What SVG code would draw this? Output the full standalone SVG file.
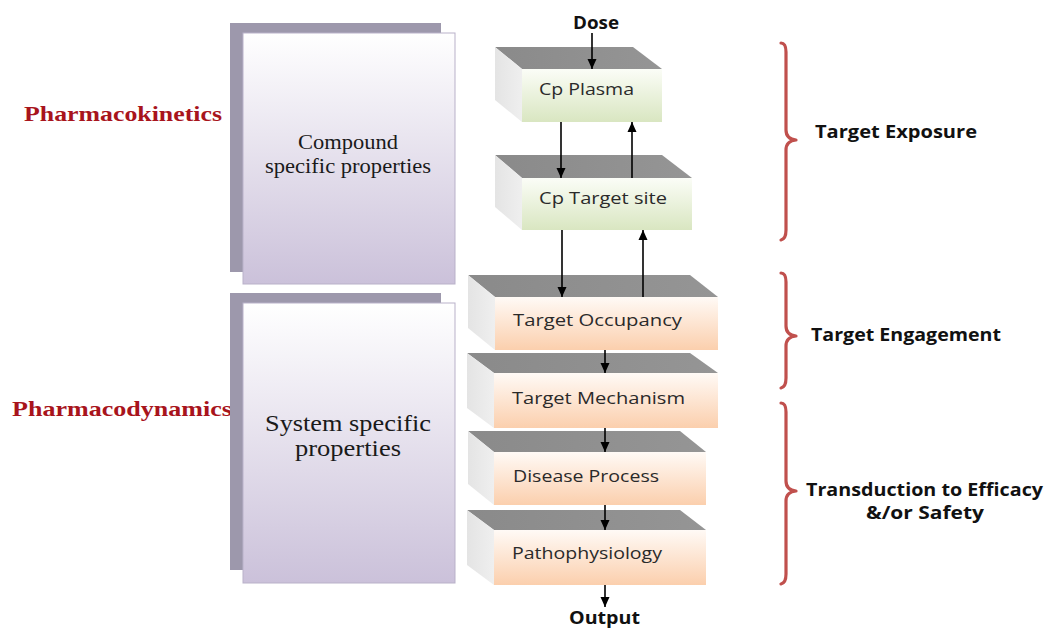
<svg xmlns="http://www.w3.org/2000/svg" width="1045" height="630" viewBox="0 0 1045 630">
<defs>
<linearGradient id="gPurple" x1="0" y1="0" x2="0" y2="1"><stop offset="0" stop-color="#ffffff"/><stop offset="1" stop-color="#cbc1da"/></linearGradient>
<linearGradient id="gGreen" x1="0" y1="0" x2="0" y2="1"><stop offset="0" stop-color="#fbfdf7"/><stop offset="1" stop-color="#d9e6c1"/></linearGradient>
<linearGradient id="gPeach" x1="0" y1="0" x2="0" y2="1"><stop offset="0" stop-color="#fffaf6"/><stop offset="1" stop-color="#fbcfad"/></linearGradient>
<linearGradient id="gTop" x1="0" y1="0" x2="1" y2="0"><stop offset="0" stop-color="#8a8a8a"/><stop offset="1" stop-color="#959595"/></linearGradient>
<linearGradient id="gLeft" x1="0" y1="0" x2="1" y2="0"><stop offset="0" stop-color="#e4e4e4"/><stop offset="1" stop-color="#efefef"/></linearGradient>
<marker id="ah" viewBox="0 0 10 10" refX="10" refY="5" markerWidth="10" markerHeight="10" markerUnits="userSpaceOnUse" orient="auto"><path d="M0,0.5 L10,5 L0,9.5 z" fill="#000"/></marker>
<style>
.shadow{fill:#9d98ac}
.card{fill:url(#gPurple);stroke:#b9b1c9;stroke-width:1}
.serif{font-family:"Liberation Serif","Times New Roman",serif;fill:#1a1a1a}
.side{font-family:"Liberation Serif","Times New Roman",serif;font-weight:bold;fill:#a8141c;font-size:21px}
.top{fill:url(#gTop)}
.left{fill:url(#gLeft)}
.fg{fill:url(#gGreen)}
.fp{fill:url(#gPeach)}
.lbl{font-family:"Open Sans","Liberation Sans",sans-serif;font-size:17px;fill:#2a2a2a}
.bold{font-family:"Open Sans","Liberation Sans",sans-serif;font-size:17px;font-weight:bold;fill:#111}
.conn{stroke:#000;stroke-width:1.6;fill:none;marker-end:url(#ah)}
.brace{stroke:#c0504d;stroke-width:3.2;fill:none;stroke-linecap:round;stroke-linejoin:round}
</style>
</defs>
<rect width="1045" height="630" fill="#ffffff"/>

<g id="pharmacokinetics"><text class="side" x="24" y="121" textLength="198" lengthAdjust="spacingAndGlyphs">Pharmacokinetics</text></g>
<g id="pharmacodynamics"><text class="side" x="12" y="416" textLength="220" lengthAdjust="spacingAndGlyphs">Pharmacodynamics</text></g>

<g id="compound">
<rect class="shadow" x="230" y="23" width="211" height="249"/>
<rect class="card" x="243" y="33" width="212" height="251"/>
<text class="serif" x="348" y="149" font-size="20" text-anchor="middle" textLength="100" lengthAdjust="spacingAndGlyphs">Compound</text>
<text class="serif" x="348" y="173" font-size="20" text-anchor="middle" textLength="166" lengthAdjust="spacingAndGlyphs">specific properties</text>
</g>
<g id="system">
<rect class="shadow" x="230" y="293" width="211" height="277"/>
<rect class="card" x="243" y="303" width="212" height="280"/>
<text class="serif" x="348" y="431" font-size="23" text-anchor="middle" textLength="166" lengthAdjust="spacingAndGlyphs">System specific</text>
<text class="serif" x="348" y="456" font-size="23" text-anchor="middle" textLength="106" lengthAdjust="spacingAndGlyphs">properties</text>
</g>

<g id="dose"><text class="bold" x="573" y="29" textLength="46" lengthAdjust="spacingAndGlyphs">Dose</text></g>

<g id="cp-plasma">
<polygon class="top" points="495,47 633,47 662,69 522,69"/>
<polygon class="left" points="495,47 522,69 522,122 495,100"/>
<rect class="fg" x="522" y="69" width="140" height="53"/>
<text class="lbl" x="539" y="95" textLength="95" lengthAdjust="spacingAndGlyphs">Cp Plasma</text>
</g>
<g id="cp-target-site">
<polygon class="top" points="495,155 662,155 692,178 522,178"/>
<polygon class="left" points="495,155 522,178 522,230 495,207"/>
<rect class="fg" x="522" y="178" width="170" height="52"/>
<text class="lbl" x="539" y="204" textLength="128" lengthAdjust="spacingAndGlyphs">Cp Target site</text>
</g>
<g id="target-occupancy">
<polygon class="top" points="468,275 690,275 718,297 495,297"/>
<polygon class="left" points="468,275 495,297 495,350 468,328"/>
<rect class="fp" x="495" y="297" width="223" height="53"/>
<text class="lbl" x="513" y="326" textLength="169" lengthAdjust="spacingAndGlyphs">Target Occupancy</text>
</g>
<g id="target-mechanism">
<polygon class="top" points="467,353 690,353 718,373 494,373"/>
<polygon class="left" points="467,353 494,373 494,428 467,408"/>
<rect class="fp" x="494" y="373" width="224" height="55"/>
<text class="lbl" x="512" y="404" textLength="173" lengthAdjust="spacingAndGlyphs">Target Mechanism</text>
</g>
<g id="disease-process">
<polygon class="top" points="468,431 680,431 706,452 494,452"/>
<polygon class="left" points="468,431 494,452 494,505 468,484"/>
<rect class="fp" x="494" y="452" width="212" height="53"/>
<text class="lbl" x="513" y="482" textLength="146" lengthAdjust="spacingAndGlyphs">Disease Process</text>
</g>
<g id="pathophysiology">
<polygon class="top" points="467,510 680,510 706,530 494,530"/>
<polygon class="left" points="467,510 494,530 494,585 467,565"/>
<rect class="fp" x="494" y="530" width="212" height="55"/>
<text class="lbl" x="512" y="559" textLength="150" lengthAdjust="spacingAndGlyphs">Pathophysiology</text>
</g>
<g id="output"><text class="bold" x="569" y="624" font-size="16" textLength="71" lengthAdjust="spacingAndGlyphs">Output</text></g>

<g id="connectors">
<line class="conn" x1="592" y1="33" x2="592" y2="69"/>
<line class="conn" x1="561" y1="122" x2="561" y2="178"/>
<line class="conn" x1="632" y1="178" x2="632" y2="122"/>
<line class="conn" x1="562" y1="230" x2="562" y2="297"/>
<line class="conn" x1="643" y1="297" x2="643" y2="230"/>
<line class="conn" x1="605" y1="350" x2="605" y2="373"/>
<line class="conn" x1="605" y1="428" x2="605" y2="452"/>
<line class="conn" x1="605" y1="505" x2="605" y2="530"/>
<line class="conn" x1="605" y1="585" x2="605" y2="607"/>
</g>

<g id="target-exposure">
<path class="brace" d="M781,43 Q786,43 786,52 L786,130 Q786,139 796,140 Q786,141 786,150 L786,230 Q786,239 781,240"/>
<text class="bold" x="815" y="138" textLength="162" lengthAdjust="spacingAndGlyphs">Target Exposure</text>
</g>
<g id="target-engagement">
<path class="brace" d="M781,273 Q786,273 786,282 L786,326 Q786,335 796,336 Q786,337 786,346 L786,378 Q786,387 781,388"/>
<text class="bold" x="811" y="341" textLength="190" lengthAdjust="spacingAndGlyphs">Target Engagement</text>
</g>
<g id="transduction">
<path class="brace" d="M781,403 Q786,403 786,412 L786,481 Q786,490 796,491 Q786,492 786,501 L786,574 Q786,583 781,584"/>
<text class="bold" x="806" y="496" textLength="237" lengthAdjust="spacingAndGlyphs">Transduction to Efficacy</text>
<text class="bold" x="925" y="519" text-anchor="middle" textLength="118" lengthAdjust="spacingAndGlyphs">&amp;/or Safety</text>
</g>
</svg>
